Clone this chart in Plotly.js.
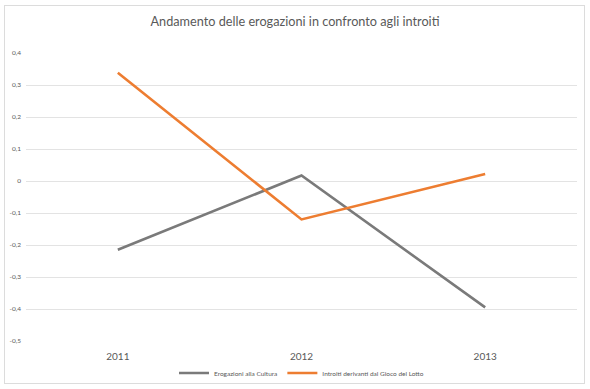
<!DOCTYPE html>
<html>
<head>
<meta charset="utf-8">
<script src="https://cdn.plot.ly/plotly-3.0.1.min.js"></script>
<style>
  html, body { margin: 0; padding: 0; background: #fff; }
  #wrap { position: relative; width: 590px; height: 389px; }
  #chart { width: 590px; height: 389px; }
  #frame { position: absolute; left: 4px; top: 5px; width: 579px; height: 377px;
           border: 1px solid #dcdcdc; pointer-events: none; }
</style>
</head>
<body>
<div id="wrap">
  <div id="chart"></div>
  <div id="frame"></div>
</div>
<script>
const years = ['2011', '2012', '2013'];
const erogazioni = [-0.215, 0.017, -0.395];
const introiti = [0.338, -0.12, 0.022];
const yTickVals = [0.4, 0.3, 0.2, 0.1, 0, -0.1, -0.2, -0.3, -0.4, -0.5];
const yTickText = ['0,4', '0,3', '0,2', '0,1', '0', '-0,1', '-0,2', '-0,3', '-0,4', '-0,5'];
const seriesNames = ['Erogazioni alla Cultura', 'Introiti derivanti dal Gioco del Lotto'];
const titleText = 'Andamento delle erogazioni in confronto agli introiti';

const traces = [
  { x: years, y: erogazioni, name: seriesNames[0], type: 'scatter', mode: 'lines',
    line: { color: '#7a7a7a', width: 2.6 } },
  { x: years, y: introiti, name: seriesNames[1], type: 'scatter', mode: 'lines',
    line: { color: '#ed7d31', width: 2.6 } }
];

const layout = {
  width: 590, height: 389,
  margin: { l: 26, r: 13, t: 53, b: 48, pad: 0, autoexpand: false },
  paper_bgcolor: '#ffffff', plot_bgcolor: '#ffffff',
  font: { family: 'Lato, "Open Sans", sans-serif', color: '#595959' },
  title: { text: titleText, font: { size: 12.7, color: '#595959', family: 'Lato, sans-serif' },
           x: 0.5, xanchor: 'center', y: 1 - 22 / 389, yanchor: 'middle', yref: 'container' },
  xaxis: { type: 'category', range: [-0.5, 2.5], showgrid: false, zeroline: false, automargin: false,
           showline: false, ticks: '', tickfont: { size: 10, color: '#595959' }, ticklabelstandoff: 8 },
  yaxis: { range: [-0.5, 0.4], tickvals: yTickVals, ticktext: yTickText, automargin: false,
           showgrid: true, gridcolor: '#e3e3e3', gridwidth: 1, zeroline: false, showline: false,
           ticks: '', tickfont: { size: 6.5, color: '#595959' }, ticklabelstandoff: 4 },
  showlegend: true,
  legend: { orientation: 'h', x: 0.5, xanchor: 'center', y: -0.111, yanchor: 'middle',
            font: { size: 6.5, color: '#595959' }, itemwidth: 30, bgcolor: 'rgba(0,0,0,0)' }
};

Plotly.newPlot('chart', traces, layout, { displayModeBar: false, staticPlot: true });
</script>
</body>
</html>
